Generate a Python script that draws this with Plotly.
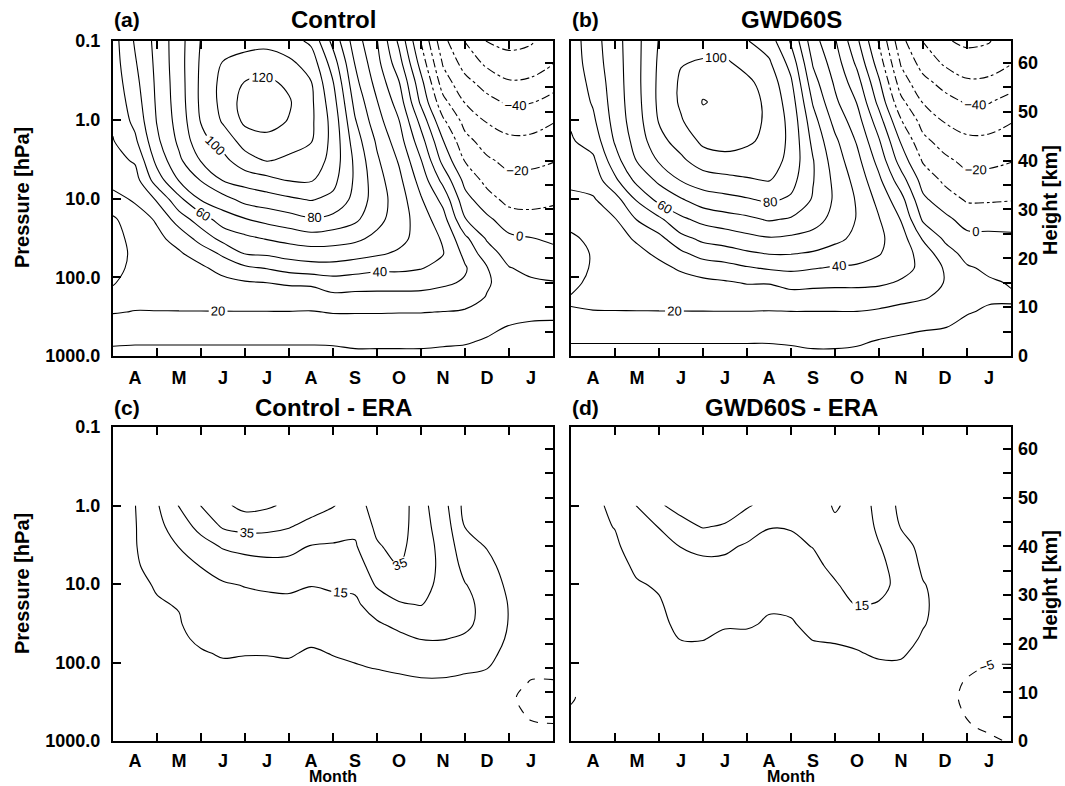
import math
import plotly.graph_objects as go

# ---------------- data ----------------
month_labels = ["A", "M", "J", "J", "A", "S", "O", "N", "D", "J"]
month_centers = [0.5, 1.5, 2.5, 3.5, 4.5, 5.5, 6.5, 7.5, 8.5, 9.5]
month_bounds = [1, 2, 3, 4, 5, 6, 7, 8, 9]
# month position: 0 = 1 April ... 10 = 1 February
month_grid = [0, 0.5, 1, 1.5, 2, 2.5, 3, 3.5, 4, 4.5, 5, 5.5, 6, 6.5, 7, 7.5, 8, 8.5, 9, 9.5, 10]

# log-pressure height levels [km]
height_ab = [0, 3, 6, 9, 12, 15, 18, 21, 24, 28, 32, 36, 40, 44, 48, 52, 56, 60, 64.5]
height_cd = [0, 3, 6, 9, 12, 15, 18, 21, 24, 28, 32, 36, 40, 44, 48.4]

pressure_ticks = [0.1, 1.0, 10.0, 100.0, 1000.0]
pressure_labels = ["0.1", "1.0", "10.0", "100.0", "1000.0"]
height_ticks = [0, 5, 10, 15, 20, 25, 30, 35, 40, 45, 50, 55, 60]
height_labels = ["0", "", "10", "", "20", "", "30", "", "40", "", "50", "", "60"]

# zonal wind [m/s], one list per month position (bottom -> top)
control_cols = [
    [7, 11.5, 16, 20.5, 22, 19.5, 17, 16, 16.5, 18.5, 27, 33, 37, 39.5, 41.5, 43, 44.5, 45.5, 46],
    [7, 11, 15.5, 19.7, 22.5, 23, 22.5, 22, 23, 26, 31, 36, 41, 48, 52.5, 55, 57, 59, 61],
    [7, 11, 15.5, 19.7, 23, 24.5, 25.5, 26.5, 28, 31, 41, 55, 63, 68, 70.5, 71.5, 72, 72.5, 73],
    [7, 11, 15.5, 19.7, 23.5, 25.5, 27, 29, 33, 45, 57, 70.5, 78, 82, 84, 85, 85.5, 86, 86],
    [7, 11, 15.5, 19.7, 24, 26.5, 28.5, 34, 44, 55, 70.5, 80.5, 90.5, 97, 100.5, 102, 102, 101.5, 100.5],
    [7, 11, 15.5, 19.7, 24.5, 27.5, 33, 42, 53, 65, 76, 90.5, 97, 104, 111, 113, 113, 110.5, 106],
    [7, 11, 15.5, 19.7, 25, 29, 38, 50.5, 57.5, 69.5, 83, 94, 106, 114, 122, 124, 120.5, 113, 107],
    [7, 11, 15.5, 19.7, 25.5, 30, 40.5, 51.5, 60.5, 73, 85.5, 97, 110.5, 117.5, 123, 124.5, 122, 115, 107],
    [7, 11, 15.5, 19.7, 26, 31, 44, 54, 63, 76, 88, 100.5, 108, 114, 119.5, 121, 118, 112, 104],
    [7, 11, 15, 19.5, 25.5, 31.5, 46, 55, 65.5, 79, 90.5, 101, 107, 110.5, 112, 112, 110.5, 106, 98],
    [6.5, 11.5, 15.5, 20.5, 27.5, 35, 46, 55.5, 64, 77, 87.5, 93, 96, 97, 96.5, 94, 90.5, 85, 77],
    [7.5, 12.5, 15.5, 20.5, 27, 34.5, 44, 54, 62, 72, 77, 78.5, 78, 75, 71, 67, 63, 59.5, 55],
    [7.5, 12.5, 15.5, 20.5, 27, 34, 42, 51.5, 57.5, 63, 65, 64, 61.5, 58.5, 54, 50.5, 46.5, 43, 40.5],
    [7.5, 12.5, 15.5, 20.3, 27, 34, 42, 48.5, 53, 55, 55, 52.5, 49, 44.5, 40.5, 35.5, 30.5, 24, 18],
    [7.5, 12.5, 15.5, 20.3, 27, 33.5, 40.5, 44, 46, 45, 41, 36, 30.5, 24, 17, 8, 3, -4, -10.5],
    [6.5, 12, 15.5, 19.8, 26, 31.5, 37, 40.5, 39, 34, 27, 17, 7, 0.5, -8, -17, -25, -31, -37],
    [5, 11.5, 15.5, 19, 24, 29, 31, 27.5, 22.5, 10.5, 3.5, -3, -10.5, -17, -23, -30.5, -37, -44, -50.5],
    [4, 8.5, 13.5, 17, 19.5, 21, 20.5, 14.5, 9, 2, -6, -13, -18.5, -24, -30.5, -37, -44, -52, -60.5],
    [3, 6.5, 9.5, 14, 18, 16, 10.5, 6, 2, -5, -13, -17.5, -22.5, -28, -34, -41.5, -49, -56, -63],
    [3, 5.5, 8.5, 12.5, 14, 11.5, 7.5, 4, 0.5, -7, -13, -17.5, -22, -28, -33.5, -40.5, -48, -55.5, -61],
    [3, 5.5, 8.5, 12, 13, 10.5, 6.5, 2.5, -1.5, -6.5, -11.5, -15.5, -20.5, -25, -30.5, -36.5, -44, -50.5, -55],
]

gwd_cols = [
    [7, 10.5, 15.5, 19.7, 20.5, 18, 16, 15, 18.5, 23, 28, 32, 36, 39, 41, 42.5, 43.5, 44.5, 45],
    [7, 10.5, 15.5, 19.7, 22, 22, 21, 21, 22, 25, 29, 34, 38, 44, 48, 51, 53, 55, 56],
    [7, 10.5, 15.5, 19.7, 22.5, 23.5, 24.5, 25.5, 27, 29.5, 36, 48, 56, 61, 63.5, 64.5, 65, 65.5, 66],
    [7, 10.5, 15.5, 19.7, 23, 25, 26.5, 28, 31, 40.5, 51, 63, 70.5, 74, 76, 77, 77.5, 77.5, 77.5],
    [7, 10.5, 15.5, 19.7, 23.5, 26, 28, 31.5, 37, 48, 63, 72, 81, 87, 90.5, 92, 92, 91.5, 90.5],
    [7, 10.5, 15.5, 19.7, 24, 27, 31, 38, 47, 58, 69, 80.5, 88, 94, 99, 101.5, 101.5, 99.5, 95],
    [7, 10.5, 15.5, 19.7, 24.5, 28, 34, 44, 52, 63, 75, 85, 95, 102, 107, 110.5, 107, 101, 96],
    [7, 10.5, 15.5, 19.7, 25, 29, 36, 46, 54, 66, 77, 87, 97, 103.5, 107, 108, 106.5, 101.5, 95],
    [7, 10.5, 15.5, 19.7, 25.5, 30.5, 39, 48.5, 57, 68, 79, 89, 96, 101.5, 104, 104.5, 102, 97, 90.5],
    [7, 10.5, 15, 19.5, 25, 30.5, 41, 50.5, 59, 71, 81.5, 90.5, 95.5, 97.5, 98, 97.5, 96, 91.5, 85],
    [7.5, 11, 15, 19.7, 26.5, 33, 42, 50.5, 58, 69, 78.5, 83.5, 86.5, 87.5, 87, 85, 81.5, 76.5, 69],
    [8.5, 11.5, 15.5, 19.7, 26, 32.5, 40.5, 49, 56, 64.5, 69, 70.5, 70.5, 67.5, 64, 59, 54, 49, 44],
    [8.5, 11.5, 15.5, 19.7, 26, 32, 39, 46.5, 52, 56.5, 58.5, 57.5, 55, 52, 47, 42, 38.5, 35, 31],
    [8, 11, 15.5, 19.7, 26, 32, 38.5, 44, 48, 49.5, 49, 46.5, 43, 39, 34.5, 29.5, 24, 18, 12],
    [6.5, 9.5, 13.5, 18.5, 25, 31.5, 37, 40.5, 42, 40.5, 37, 32, 26.5, 21, 14.5, 7, 1.5, -5, -11],
    [5, 8.5, 12, 16.5, 23, 29, 33, 35.5, 34.5, 29.5, 23.5, 14.5, 5.5, -1, -9, -17.5, -25, -31, -37],
    [4, 7.5, 11, 15, 21, 26, 28, 25.5, 19, 8.5, 2, -4, -11, -17.5, -23.5, -30.5, -37, -44, -50.5],
    [4, 7, 10.3, 13.5, 17.5, 19.5, 19, 14, 8.5, 2.5, -5.5, -12, -18, -24, -30.5, -36.5, -43.5, -51.5, -59],
    [3.5, 6, 8, 10.5, 13, 14, 11, 7, 3, -4, -11, -17, -22.5, -28, -34, -41, -48.5, -55.5, -62],
    [3.5, 5.5, 7, 9, 11, 11, 8.5, 5.5, 2.5, -4, -11, -17, -22, -28, -33.5, -40.5, -47.5, -55.5, -60.5],
    [3.5, 5.5, 7, 9, 10.8, 9.5, 8, 5, 1.5, -3, -10.5, -15, -20.5, -25, -30.5, -36.5, -44, -50.5, -55],
]

# wind differences [m/s], bottom -> 1 hPa
control_era_cols = [
    [0, 0, 0.5, 1, 1, 1, 1, 1, 1.5, 2, 2.5, 3, 3, 3.5, 4],
    [0, 0, 0.5, 1, 1.5, 1.5, 2, 2, 2.5, 3, 3.5, 4, 4.5, 4.5, 4.8],
    [0, 0.5, 1, 1.5, 2, 2.5, 3, 3.5, 4, 4.5, 5.5, 8, 10, 12, 14],
    [0, 0.5, 1, 2, 2.5, 3, 3.5, 4, 4.5, 5.3, 7, 11, 15.3, 20, 25.5],
    [0, 0.5, 1, 2, 3, 3.5, 4.5, 6, 8, 11, 12.5, 15.3, 21, 28, 35.3],
    [0, 0.5, 1, 2, 3, 4, 5.5, 7.5, 9.5, 12, 14, 19, 26, 36, 43],
    [0, 0.5, 1, 2, 3, 4, 5.2, 6.5, 9, 12.5, 15.3, 21, 28, 38, 48],
    [0, 0.5, 1, 2, 3, 4, 5.2, 6.5, 9, 13, 16, 22, 29, 37.5, 46.5],
    [0, 0.5, 1, 2, 3, 4, 5.5, 7, 9, 13, 16.5, 21.5, 28.5, 35.5, 43],
    [0, 0.5, 1, 2, 3, 4, 4.3, 6, 8, 11, 15.3, 19.5, 24.5, 32, 39],
    [0, 0.5, 1, 2, 3, 4, 5.2, 7, 10, 13, 16, 20, 24, 30, 35.5],
    [0, 0.5, 1, 2, 3, 4.5, 6, 8, 10.5, 13.5, 16.5, 20, 24, 27, 31],
    [0, 0.5, 1, 2, 3, 5.2, 7.5, 10.5, 14, 19, 26, 30.5, 34, 37, 39],
    [0, 0.5, 1, 2, 3.5, 6, 9, 13, 17, 24, 30, 35.5, 38, 40, 41],
    [0, 0.5, 1, 2, 4, 7, 11, 15.3, 20, 25.3, 28, 29, 29, 28.5, 28],
    [0, 0.5, 1, 2, 4, 7, 11.5, 15.3, 19, 21, 22.5, 23, 22.5, 21, 19],
    [0, 0.5, 1, 2, 3.5, 6, 10, 14, 16.5, 17, 15.5, 12, 8.5, 4.8, 2],
    [0, 0, 0.5, 1.5, 3, 5.2, 8, 11, 12.5, 12.5, 10.5, 7.5, 4.5, 2, 0],
    [0, -1, -2.5, -4, -2, 0, 2, 3.5, 4.5, 4.5, 3, 1.5, 0.5, 0, 0],
    [0, -4, -6.5, -7, -5.5, -3, -1, 0.5, 1.5, 1.5, 1, 0.5, 0, 0, 0],
    [-2, -4.5, -7, -7, -5.5, -3, -1, 0.5, 1, 1, 0.5, 0, 0, 0, 0],
]

gwd_era_cols = [
    [0, -2, -4.5, -5.5, -3, -1, 0, 0.5, 1, 1.5, 2, 2.5, 2.5, 3, 3.5],
    [0, -1, -2.5, -3, -2, -0.5, 0, 0.5, 1, 1.5, 2, 2.5, 3, 3.5, 4],
    [0, -0.5, -1, -1, -0.5, 0, 0.5, 1, 1.5, 2, 2.5, 3, 4, 5.2, 6],
    [0, 0, 0, 0, 0.5, 1, 1.5, 2, 2.5, 3.5, 4.5, 6, 8, 11, 15.5],
    [0, 0, 0, 0.5, 1, 1.5, 2, 3, 4, 4.5, 5.5, 8, 11, 15.3, 24],
    [0, 0, 0, 0.5, 1, 2, 3.5, 5.2, 6, 7, 9, 11.5, 15.3, 22, 28],
    [0, 0, 0, 0.5, 1, 2, 3.5, 5.2, 6.5, 8, 10, 13, 17, 25.5, 30],
    [0, 0, 0, 0.5, 1, 2, 3, 4, 5.5, 7.5, 10, 13, 16.5, 24, 30],
    [0, 0, 0, 0.5, 1, 2, 3, 4, 5.5, 7, 9, 11.5, 14, 19, 26],
    [0, 0, 0, 0.5, 1, 1.5, 2.5, 3.5, 4.5, 5.5, 7.5, 10, 12.5, 15.3, 22],
    [0, 0, 0, 0.5, 1, 1.5, 2.5, 3.5, 4.5, 6, 8, 10.5, 13, 15.5, 18],
    [0, 0, 0, 0.5, 1, 2, 3.5, 5.2, 6.5, 8.5, 10.5, 12.5, 15.3, 18, 20],
    [0, 0, 0, 0.5, 1, 2.5, 4, 5.5, 7.5, 11, 14, 17.5, 20.5, 23, 26],
    [0, 0, 0, 0.5, 1.5, 3, 4.5, 6.5, 9, 15.5, 19, 20.5, 21.5, 22, 22],
    [0, 0, 0, 0.5, 1.5, 3.5, 6, 8.5, 11, 14.5, 17, 17, 15.5, 13, 11],
    [0, 0, 0, 0.5, 1.5, 3.5, 6, 8.5, 10.5, 12.5, 13, 11.5, 9, 4.5, 3],
    [0, -0.5, -1, -1.5, -0.5, 1, 2.5, 4, 5.5, 6, 5.5, 3.5, 2, 1, 0],
    [0, -1.5, -3, -3.5, -3, -1.5, 0, 1, 2, 2.5, 2, 1.5, 1, 0.5, 0],
    [-3, -4.5, -5.5, -6, -5.5, -4, -2, 0, 0.5, 1, 1, 0.5, 0.5, 0, 0],
    [-4, -6, -7.5, -8, -7, -5.5, -3, -1, 0, 0.5, 0.5, 0.5, 0, 0, 0],
    [-5.5, -7, -8, -8, -7, -5.5, -3.5, -1.5, 0, 0.5, 0.5, 0, 0, 0, 0],
]

panel_titles = ["Control", "GWD60S", "Control - ERA", "GWD60S - ERA"]
panel_letters = ["(a)", "(b)", "(c)", "(d)"]

# ---------------- figure ----------------
FONT = "Liberation Sans, Arial, Helvetica, sans-serif"
W, H = 1065, 786
SCALE_H = 7.0  # km, log-pressure scale height
pressure_heights = [SCALE_H * math.log(1000.0 / p) for p in pressure_ticks]
ZTOP = 64.5


def px_x(v):
    return v / W


def px_y(v):
    return 1 - v / H


XL = [px_x(113), px_x(553)]
XR = [px_x(571), px_x(1011)]
YT = [px_y(356), px_y(41)]
YB = [px_y(741), px_y(427)]

panels = [
    dict(xd=XL, yd=YT, cols=control_cols, hts=height_ab, kind="wind", left=True, top=True),
    dict(xd=XR, yd=YT, cols=gwd_cols, hts=height_ab, kind="wind", left=False, top=True),
    dict(xd=XL, yd=YB, cols=control_era_cols, hts=height_cd, kind="diffc", left=True, top=False),
    dict(xd=XR, yd=YB, cols=gwd_era_cols, hts=height_cd, kind="diffd", left=False, top=False),
]

fig = go.Figure()
tickfont = dict(family=FONT, size=18, color="black", weight="bold")
labelfont = dict(family=FONT, size=13, color="black")


def add_contour(k, cols, hts, start, end, size, dash, labels):
    zgrid = [list(row) for row in zip(*cols)]
    sfx = "" if k == 1 else str(k)
    fig.add_trace(go.Contour(
        x=month_grid, y=hts, z=zgrid,
        xaxis="x" + sfx, yaxis="y" + sfx,
        autocontour=False,
        contours=dict(start=start, end=end, size=size, coloring="none",
                      showlabels=labels, labelfont=labelfont),
        line=dict(color="black", width=1.1, dash=dash, smoothing=1.0),
        showscale=False, hoverinfo="skip", showlegend=False,
    ))


layout = dict(
    width=W, height=H, autosize=False,
    margin=dict(l=0, r=0, t=0, b=0, pad=0, autoexpand=False),
    paper_bgcolor="white", plot_bgcolor="white", showlegend=False,
)

for i, p in enumerate(panels):
    k = i + 1
    sfx = "" if k == 1 else str(k)
    osfx = str(k + 4)
    if p["kind"] == "wind":
        add_contour(k, p["cols"], p["hts"], 0, 120, 20, "solid", True)
        add_contour(k, p["cols"], p["hts"], 10, 110, 20, "solid", False)
        add_contour(k, p["cols"], p["hts"], -60, -20, 20, "dashdot", True)
        add_contour(k, p["cols"], p["hts"], -70, -10, 20, "dashdot", False)
    else:
        add_contour(k, p["cols"], p["hts"], 15, 35, 20, "solid", True)
        add_contour(k, p["cols"], p["hts"], 5, 45, 20, "solid", False)
        add_contour(k, p["cols"], p["hts"], -15, -5, 10, "dash", p["kind"] == "diffd")

    # dummy traces so the overlay axes are drawn
    fig.add_trace(go.Scatter(x=[None], y=[None], xaxis="x" + osfx, yaxis="y" + sfx,
                             showlegend=False, hoverinfo="skip"))
    fig.add_trace(go.Scatter(x=[None], y=[None], xaxis="x" + sfx, yaxis="y" + osfx,
                             showlegend=False, hoverinfo="skip"))

    layout["xaxis" + sfx] = dict(
        domain=p["xd"], anchor="y" + sfx, range=[0, 10], automargin=False,
        tickmode="array", tickvals=month_centers, ticktext=month_labels,
        ticks="", showline=True, linecolor="black", linewidth=2, mirror=True,
        showgrid=False, zeroline=False, tickfont=tickfont,
        ticklabelstandoff=4 if p["top"] else 2,
        fixedrange=True,
    )
    layout["xaxis" + osfx] = dict(
        overlaying="x" + sfx, anchor="y" + sfx, side="bottom", range=[0, 10],
        automargin=False,
        tickmode="array", tickvals=month_bounds, ticks="inside", ticklen=8,
        tickwidth=1.6, tickcolor="black", showticklabels=False, showline=True,
        linecolor="black", linewidth=2, mirror="ticks", showgrid=False,
        zeroline=False, fixedrange=True,
    )
    layout["yaxis" + sfx] = dict(
        domain=p["yd"], anchor="x" + sfx, range=[0, ZTOP], automargin=False,
        tickmode="array", tickvals=pressure_heights, ticktext=pressure_labels,
        ticks="inside", ticklen=8, tickwidth=1.6, tickcolor="black",
        showticklabels=p["left"], showline=True, linecolor="black", linewidth=2,
        mirror=True, showgrid=False, zeroline=False, tickfont=tickfont,
        ticklabelstandoff=7, fixedrange=True,
    )
    layout["yaxis" + osfx] = dict(
        overlaying="y" + sfx, anchor="x" + sfx, side="right", range=[0, ZTOP],
        automargin=False,
        tickmode="array", tickvals=height_ticks, ticktext=height_labels,
        ticks="inside", ticklen=8, tickwidth=1.6, tickcolor="black",
        showticklabels=not p["left"], showline=False, showgrid=False,
        zeroline=False, tickfont=tickfont, ticklabelstandoff=6, fixedrange=True,
    )


def ann(text, x, y, size, xanchor="center", angle=0):
    return dict(text=text, x=px_x(x), y=px_y(y), xref="paper", yref="paper",
                showarrow=False, xanchor=xanchor, yanchor="middle", textangle=angle,
                font=dict(family=FONT, size=size, color="black", weight="bold"))


annotations = []
title_pos = [(333, 19), (791, 19), (333, 407), (791, 407)]
letter_pos = [(112, 19), (570, 19), (112, 407), (570, 407)]
for i in range(4):
    annotations.append(ann(panel_titles[i], title_pos[i][0], title_pos[i][1], 24))
    annotations.append(ann(panel_letters[i], letter_pos[i][0], letter_pos[i][1], 21, xanchor="left"))
annotations.append(ann("Pressure [hPa]", 22, 198, 20, angle=-90))
annotations.append(ann("Pressure [hPa]", 22, 584, 20, angle=-90))
annotations.append(ann("Height [km]", 1050, 200, 20, angle=-90))
annotations.append(ann("Height [km]", 1050, 585, 20, angle=-90))
annotations.append(ann("Month", 333, 776, 16))
annotations.append(ann("Month", 791, 776, 16))
layout["annotations"] = annotations

fig.update_layout(**layout)
fig.write_html(
    "out.html",
    config={"displayModeBar": False},
    post_script="document.body.style.margin='0px';document.body.style.overflow='hidden';",
)
